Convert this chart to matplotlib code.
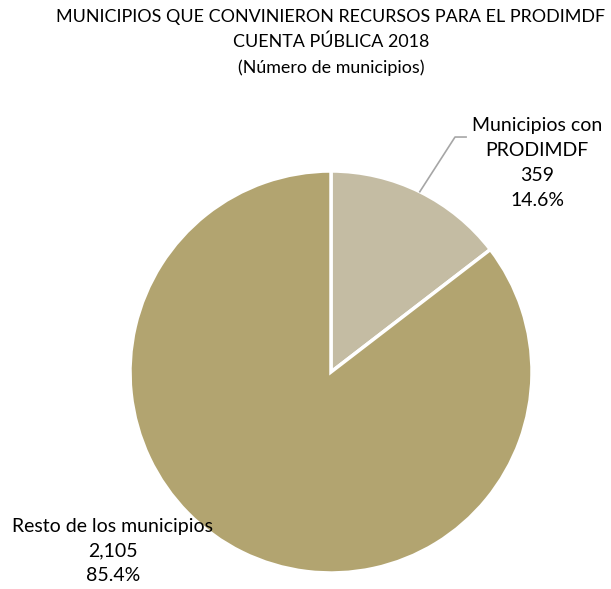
import numpy as np
import matplotlib.pyplot as plt

plt.rcParams['font.family'] = ['Lato', 'DejaVu Sans']

# datos
categorias = ['Municipios con\nPRODIMDF', 'Resto de los municipios']
municipios = [359, 2105]
colores = ['#C4BCA3', '#B2A470']

W, H = 611, 589
fig = plt.figure(figsize=(W / 100, H / 100), dpi=100)

# pie centered at (331, 372) px, radius ~201 px
cx, cy, r = 331, 372, 201
ax = fig.add_axes([(cx - r) / W, (H - cy - r) / H, 2 * r / W, 2 * r / H])
wedges, _ = ax.pie(municipios, colors=colores, startangle=90, counterclock=False,
                   wedgeprops=dict(edgecolor='white', linewidth=2.5), radius=1)
ax.set_xlim(-1, 1)
ax.set_ylim(-1, 1)
ax.set_aspect('equal')
ax.axis('off')

total = sum(municipios)
pct = [v / total * 100 for v in municipios]

# title
fs_t = 12.9
fig.text(cx / W, 1 - 17 / H, 'MUNICIPIOS QUE CONVINIERON RECURSOS PARA EL PRODIMDF',
         ha='center', va='center', fontsize=fs_t)
fig.text(cx / W, 1 - 42 / H, 'CUENTA PÚBLICA 2018', ha='center', va='center', fontsize=fs_t)
fig.text(cx / W, 1 - 68 / H, '(Número de municipios)', ha='center', va='center', fontsize=fs_t)

# etiqueta rebanada chica
fs_l = 14
lbl1 = f'{categorias[0]}\n{municipios[0]:,}\n{pct[0]:.1f}%'
fig.text(537 / W, 1 - 163 / H, lbl1, ha='center', va='center', fontsize=fs_l,
         linespacing=1.55)

# leader line
ang = np.deg2rad(90 - pct[0] * 3.6 / 2)
x0, y0 = np.cos(ang) * 1.0, np.sin(ang) * 1.0
ax.plot([x0, 0.617, 0.672], [y0, 1.169, 1.169], color='#A6A6A6', lw=1.2,
        clip_on=False)

# etiqueta rebanada grande
lbl2 = f'{categorias[1]}\n{municipios[1]:,}\n{pct[1]:.1f}%'
fig.text(113 / W, 1 - 551 / H, lbl2, ha='center', va='center', fontsize=fs_l,
         linespacing=1.55)

fig.savefig('out.png', dpi=100, facecolor='white')
